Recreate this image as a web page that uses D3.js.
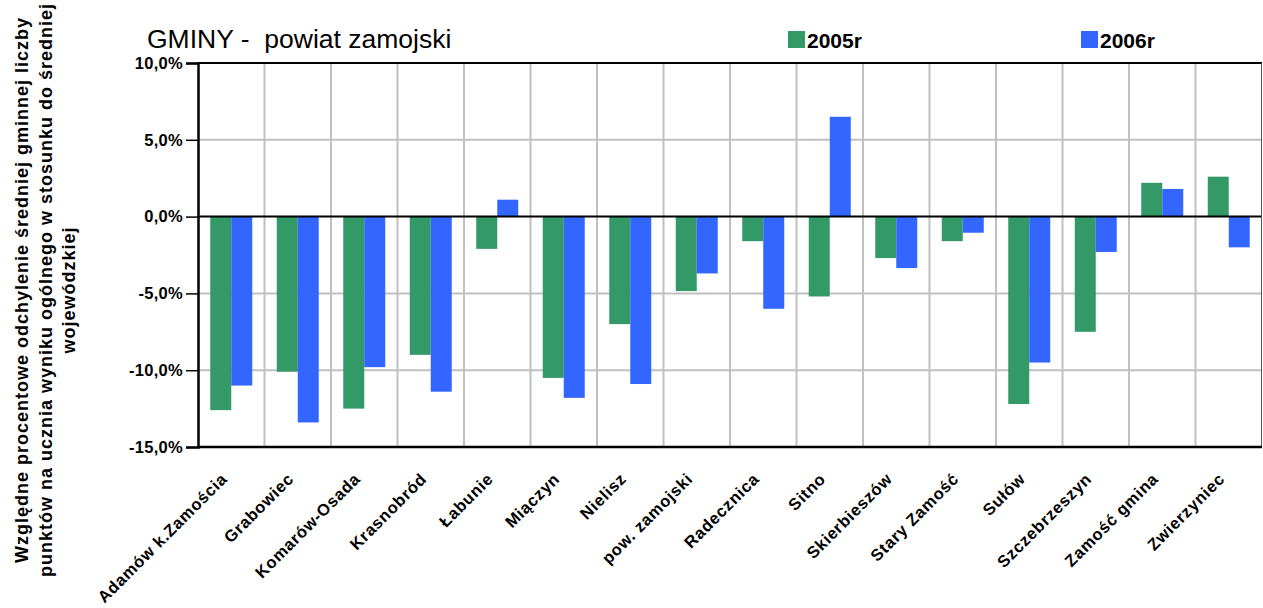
<!DOCTYPE html>
<html><head><meta charset="utf-8">
<script src="https://cdn.jsdelivr.net/npm/d3@7"></script>
<style>
html,body{margin:0;padding:0;background:#fff;}
svg{display:block;font-family:"Liberation Sans",Arial,Helvetica,sans-serif;}
</style></head>
<body>
<svg id="chart" width="1263" height="608"></svg>
<script>
const categories = ["Adamów k.Zamościa","Grabowiec","Komarów-Osada","Krasnobród","Łabunie","Miączyn","Nielisz","pow. zamojski","Radecznica","Sitno","Skierbieszów","Stary Zamość","Sułów","Szczebrzeszyn","Zamość gmina","Zwierzyniec"];
const series = ["2005r","2006r"];
const values2005 = [-12.6,-10.1,-12.5,-9.0,-2.1,-10.5,-7.0,-4.85,-1.6,-5.2,-2.7,-1.6,-12.2,-7.5,2.2,2.6];
const values2006 = [-11.0,-13.4,-9.8,-11.4,1.1,-11.8,-10.9,-3.7,-6.0,6.5,-3.35,-1.05,-9.5,-2.3,1.8,-2.0];
const colors = ["#339966","#3366FF"];
const yTicks = [-15,-10,-5,0,5,10];
const yTitleLines = ["Względne procentowe odchylenie średniej gminnej liczby","punktów na ucznia wyniku ogólnego w stosunku do średniej","wojewódzkiej"];
const title = "GMINY -  powiat zamojski";

const svg = d3.select("#chart");
const L = 198, R = 1262, T = 63, B = 447;
const x = d3.scaleBand().domain(categories).range([L, R]).padding(0);
const xs = d3.scaleBand().domain(series).range([0, x.bandwidth()]).paddingInner(0).paddingOuter(0.583);
const y = d3.scaleLinear().domain([-15, 10]).range([B, T]);
const fmt = d => d.toFixed(1).replace(".", ",") + "%";

// gridlines
const g = svg.append("g");
g.selectAll("line.h").data(yTicks.filter(v => v !== 0 && v !== -15 && v !== 10)).join("line")
  .attr("x1", L).attr("x2", R).attr("y1", d => y(d)).attr("y2", d => y(d))
  .attr("stroke", "#c0c0c0").attr("stroke-width", 2);
g.selectAll("line.v").data(categories.slice(1)).join("line")
  .attr("x1", d => x(d)).attr("x2", d => x(d)).attr("y1", T).attr("y2", B)
  .attr("stroke", "#c0c0c0").attr("stroke-width", 2);

// bars
const data = categories.map((c, i) => ({c, vals: [values2005[i], values2006[i]]}));
const grp = svg.append("g").selectAll("g").data(data).join("g")
  .attr("transform", d => `translate(${x(d.c)},0)`);
grp.selectAll("rect").data(d => d.vals.map((v, j) => ({v, s: series[j], j}))).join("rect")
  .attr("x", d => xs(d.s)).attr("width", xs.bandwidth())
  .attr("y", d => y(Math.max(0, d.v))).attr("height", d => Math.abs(y(d.v) - y(0)))
  .attr("fill", d => colors[d.j]);

// zero line & frame
svg.append("line").attr("x1", L).attr("x2", R).attr("y1", y(0)).attr("y2", y(0))
  .attr("stroke", "#000").attr("stroke-width", 2);
svg.append("line").attr("x1", L).attr("x2", R).attr("y1", T).attr("y2", T).attr("stroke", "#000").attr("stroke-width", 2);
svg.append("line").attr("x1", R - 0.5).attr("x2", R - 0.5).attr("y1", T).attr("y2", B).attr("stroke", "#555").attr("stroke-width", 1);
svg.append("line").attr("x1", L).attr("x2", R).attr("y1", B).attr("y2", B).attr("stroke", "#000").attr("stroke-width", 2.5);

// y axis
const ya = svg.append("g").attr("transform", `translate(${L},0)`)
  .call(d3.axisLeft(y).tickValues(yTicks).tickSize(12).tickPadding(3).tickFormat(fmt));
ya.select(".domain").attr("stroke", "#000").attr("stroke-width", 2.5);
ya.selectAll(".tick line").attr("stroke", "#000").attr("stroke-width", 1.5);
ya.selectAll(".tick text").attr("font-size", 16.5).attr("font-weight", "bold").attr("fill", "#000")
  .attr("font-family", "Liberation Sans, Arial, sans-serif").attr("letter-spacing", 0.3);

// x axis labels
const xa = svg.append("g").attr("transform", `translate(0,${B})`)
  .call(d3.axisBottom(x).tickSize(0).tickPadding(0));
xa.select(".domain").remove();
xa.selectAll(".tick text")
  .attr("font-size", 16.5).attr("font-weight", "bold").attr("fill", "#000")
  .attr("font-family", "Liberation Sans, Arial, sans-serif").attr("letter-spacing", 0.7)
  .attr("text-anchor", "end").attr("y", 0).attr("dy", 0)
  .attr("transform", "translate(-3,33) rotate(-45)");

// title
svg.append("text").attr("x", 147).attr("y", 48).attr("font-size", 26.5)
  .attr("fill", "#000").style("white-space", "pre").text(title);

// legend
const leg = svg.append("g");
const legX = [788, 1081];
series.forEach((s, i) => {
  leg.append("rect").attr("x", legX[i]).attr("y", 31).attr("width", 17).attr("height", 17).attr("fill", colors[i]);
  leg.append("text").attr("x", legX[i] + 19).attr("y", 48).attr("font-size", 21).attr("font-weight", "bold")
    .attr("fill", "#000").text(s);
});

// y title
const yt = svg.append("text").attr("transform", "translate(0,290) rotate(-90)")
  .attr("text-anchor", "middle").attr("font-size", 18).attr("font-weight", "bold").attr("fill", "#000")
  .attr("letter-spacing", 1.0);
yTitleLines.forEach((t, i) => {
  yt.append("tspan").attr("x", 0).attr("y", 28 + i * 23.5).text(t);
});
</script>
</body></html>
